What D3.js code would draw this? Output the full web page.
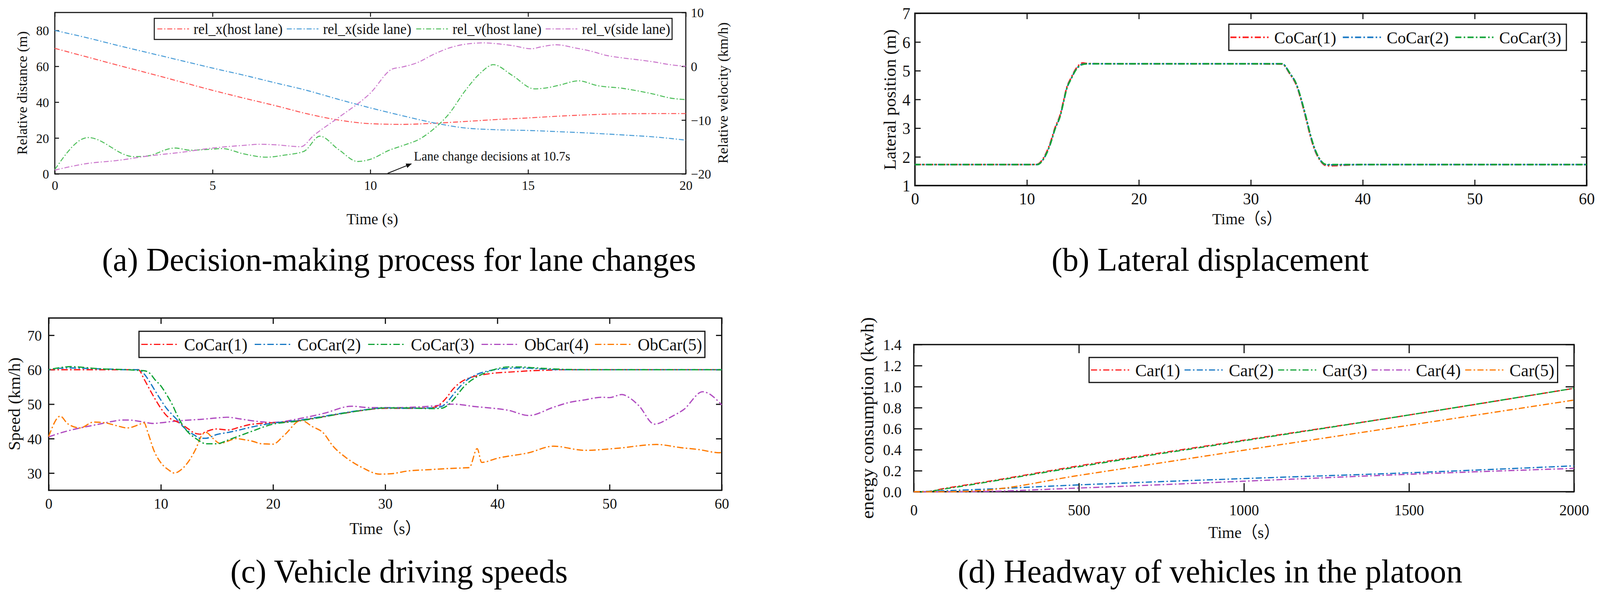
<!DOCTYPE html>
<html><head><meta charset="utf-8">
<script src="https://cdn.jsdelivr.net/npm/d3@7/dist/d3.min.js"></script>
<style>html,body{margin:0;padding:0;background:#fff;overflow:hidden;width:100%;height:100%}svg{display:block;background:#fff;width:100vw;height:100vh}</style>
</head><body>
<svg id="fig" viewBox="0 0 4190 1523" preserveAspectRatio="none"></svg>
<script>
// ---------------- DATA ----------------
// (a) Decision-making process for lane changes
const aNames = ["rel_x(host lane)", "rel_x(side lane)", "rel_v(host lane)", "rel_v(side lane)"];
const aTime = [0,1,2,3,4,5,6,7,8,9,10,11,12,13,14,15,16,17,18,19,20];
const aRelXHost = [70,65.3,60.6,56,51.3,46.6,42.2,38,33.5,30,28,27.6,28.2,29.2,30.3,31.2,32.2,33,33.5,33.6,33.6];
const aRelXSide = [80,76,71.6,67.4,63.2,59,55,50.7,46.5,41.5,36.8,32.5,28.5,25.6,24.6,24.2,23.5,22.7,21.7,20.6,18.8];
const aRelVHostTime = [0,1.06,2.5,2.9,3.8,4.3,5,5.3,6,6.7,7.3,7.9,8.4,9,9.6,10,10.6,11,11.6,12,12.5,13,13.5,13.9,14.5,15.2,15.6,16,16.6,17.2,18,18.5,19,19.5,20];
const aRelVHost = [-19.2,-13.25,-16.8,-16.7,-15.2,-15.6,-15.4,-15.3,-16.3,-16.9,-16.5,-15.8,-13.0,-15.5,-17.7,-17.3,-15.6,-14.8,-13.4,-11.7,-8.8,-4.6,-1.2,0.3,-1.7,-4.2,-4.0,-3.5,-2.7,-3.6,-4.1,-4.6,-5.2,-5.9,-6.2];
const aRelVSideTime = [0,1,2,3,4,5,6,6.5,7,7.8,8.2,9,10,10.7,11,11.5,12,12.5,13,13.6,14,14.5,15.1,15.4,15.9,16.5,17,17.5,18,18.5,19,19.5,20];
const aRelVSide = [-19.3,-18.1,-17.5,-16.65,-16,-15.2,-14.7,-14.5,-14.6,-14.95,-12.9,-9.5,-5.0,-0.5,-0.15,0.7,2.2,3.4,4.1,4.35,4.2,3.85,3.25,3.6,4.0,3.4,2.8,2.0,1.55,1.2,0.8,0.3,0.0];
const aXTicks = [0,5,10,15,20];
const aYTicks = [0,20,40,60,80];
const aYRTicks = [-20,-10,0,10];
const aNote = "Lane change decisions at 10.7s";

// (b) Lateral displacement
const bNames = ["CoCar(1)", "CoCar(2)", "CoCar(3)"];
const bTime = [0,5,10,10.9,11.5,12.1,12.5,13.0,13.3,13.55,13.96,14.4,15.0,15.4,20,25,30,32.8,33.5,34.1,34.5,34.9,35.3,35.7,36.1,36.5,36.8,40,50,60];
const bCoCar1 = [1.73,1.73,1.73,1.74,1.97,2.5,3.0,3.5,4.0,4.4,4.76,5.08,5.27,5.25,5.24,5.24,5.24,5.23,4.88,4.47,3.97,3.38,2.75,2.25,1.93,1.74,1.69,1.73,1.73,1.73];
const bCoCar2 = [1.73,1.73,1.73,1.73,1.94,2.46,2.96,3.46,3.96,4.37,4.73,5.05,5.23,5.24,5.24,5.24,5.24,5.24,4.9,4.5,4.0,3.42,2.79,2.28,1.95,1.76,1.72,1.73,1.73,1.73];
const bCoCar3 = [1.73,1.73,1.73,1.73,1.93,2.45,2.95,3.45,3.95,4.36,4.72,5.04,5.22,5.24,5.24,5.24,5.24,5.24,4.91,4.51,4.02,3.44,2.81,2.3,1.96,1.77,1.73,1.73,1.73,1.73];
const bXTicks = [0,10,20,30,40,50,60];
const bYTicks = [1,2,3,4,5,6,7];

// (c) Vehicle driving speeds
const cNames = ["CoCar(1)", "CoCar(2)", "CoCar(3)", "ObCar(4)", "ObCar(5)"];
const cTime = [0,1,2,3,4,5,6,7,8,8.5,9,9.5,10,10.5,11,11.5,12,12.5,13,13.5,14,15,16,17,18,20,22,24,26,28,30,32,34,35,35.5,36,36.5,37,37.5,38,39,40,41,42,43,44,46,48,50,55,60];
const cCoCar1 = [60,60,60,60,60,60,60,60,60,57.3,54.3,51.4,48.8,46.7,45.5,44.8,43.8,42.7,41.6,41.3,42,42.8,42.5,43.3,44.1,44.6,45.1,46.1,47.2,48.2,48.8,48.8,48.9,50.3,52,54.2,55.8,56.9,57.6,58.1,58.7,59.1,59.3,59.5,59.7,59.8,60,60,60,60,60];
const cCoCar2 = [60,60.4,60.5,60.4,60.3,60.2,60.1,60,60,58.8,56.5,53.8,51.2,48.8,47,45.3,43.4,42,41,40.1,40.1,41.2,41.8,42.5,43.3,44.5,45.2,46.2,47.3,48.3,48.9,48.8,48.9,49.3,50.5,52.5,54.5,56.2,57.5,58.4,59.5,60.1,60.4,60.5,60.4,60.2,60,60,60,60,60];
const cCoCar3 = [60,60.6,60.9,60.7,60.4,60.2,60.1,60,59.8,59.7,59,57,55.3,52.8,50,46.5,43.6,41.6,40.3,39.2,38.5,38.5,39.6,40.8,42,44.2,45,46,47.2,48.2,48.9,48.9,48.7,48.8,49.5,51,53,55,56.5,57.6,59.2,60.3,60.8,60.8,60.6,60.4,60.1,60,60,60,60];
const cObCar4Time = [0,1.1,2.8,4.2,5.7,6.5,7.1,8.3,9.3,10,11.1,12.1,13.6,15,15.9,17.1,18.1,20,22.5,24.5,27,28.6,31,34,36.1,38,39,41,42.8,45,46.4,47.8,49.3,50,51.1,51.7,52.6,54,55.6,56.6,58.3,60];
const cObCar4 = [40.5,41.7,43.1,44,45,45.4,45.4,44.9,44.4,44.6,45,45.3,45.6,46,46.2,45.7,45.2,44.7,45.9,47.3,49.4,49,49,49.4,50,49.3,49,48.2,46.7,49.1,50.5,51.25,52,51.9,52.8,52,49.6,44.2,46.5,48.4,53.6,49.8];
const cObCar5Time = [0,1.03,1.7,2.8,4,5,6,7,8,8.5,8.85,9.4,10,10.7,11.2,11.85,12.6,13.1,13.7,14.05,14.6,15.3,16,16.7,17.4,18.1,19,20,21,22.5,23.5,24.5,25.3,26.5,28,29.5,30.5,32,34,35.5,37,37.5,38.2,38.6,40,42.8,45,47.8,50.7,54.2,56.3,58,59.8,60];
const cObCar5 = [40.6,46.5,44.3,43.1,44.8,44.6,43.8,43.1,44,44.6,41.7,36.4,33,30.9,30,31.1,34,36.9,41.2,41.8,40.2,38.6,39.3,40,39.7,39.3,38.5,38.4,41,45.3,43.5,41.6,38,34.5,31.5,29.7,29.8,30.6,31,31.3,31.5,31.6,37.1,33.1,34.3,35.9,37.8,36.6,37.2,38.3,37.4,36.8,35.9,36];
const cXTicks = [0,10,20,30,40,50,60];
const cYTicks = [30,40,50,60,70];

// (d) Headway of vehicles in the platoon (energy consumption)
const dNames = ["Car(1)", "Car(2)", "Car(3)", "Car(4)", "Car(5)"];
const dTime = [0,30,100,200,500,1000,1500,2000];
const dCar1 = [0,0,0.035,0.085,0.246,0.49,0.73,0.984];
const dCar2 = [0,0.002,0.01,0.022,0.065,0.125,0.18,0.246];
const dCar3 = [0,0,0.03,0.08,0.238,0.485,0.73,0.984];
const dCar4 = [0,0,0,0.002,0.035,0.1,0.166,0.222];
const dCar5 = [0,0,0,0.01,0.155,0.395,0.632,0.872];
const dXTicks = [0,500,1000,1500,2000];
const dYTicks = [0,0.2,0.4,0.6,0.8,1.0,1.2,1.4];

const captions = ["(a) Decision-making process for lane changes", "(b) Lateral displacement", "(c) Vehicle driving speeds", "(d) Headway of vehicles in the platoon"];

// ---------------- DRAWING ----------------
const FONT = "'Liberation Serif','Times New Roman',serif";
const FONTCJK = "'Liberation Serif','Noto Sans CJK SC',serif";
const svg = d3.select("#fig");
svg.append("rect").attr("width",4190).attr("height",1523).attr("fill","#fff");

const defs = svg.append("defs");
defs.append("marker").attr("id","arrow").attr("viewBox","0 0 10 10").attr("refX",9).attr("refY",5)
  .attr("markerWidth",7).attr("markerHeight",7).attr("markerUnits","strokeWidth").attr("orient","auto")
  .append("path").attr("d","M0,1 L10,5 L0,9 Z").attr("fill","#111");

function panel(o) {
  const g = svg.append("g");
  const x = d3.scaleLinear().domain(o.xDomain).range([o.left, o.right]);
  const y = d3.scaleLinear().domain(o.yDomain).range([o.bottom, o.top]);
  const fmtX = o.xFmt || d3.format("d");
  const fmtY = o.yFmt || d3.format("d");
  const style = sel => sel.attr("font-family", FONT).attr("font-size", o.tickFont).attr("fill","#111");
  const ax = g.append("g").attr("transform",`translate(0,${o.bottom})`)
    .call(d3.axisBottom(x).tickValues(o.xTicks).tickSize(-o.tick).tickSizeOuter(0).tickFormat(fmtX));
  ax.select(".domain").remove();
  ax.selectAll("text").attr("y", o.xLabOff).attr("dy","0.35em").call(style);
  const at = g.append("g").attr("transform",`translate(0,${o.top})`)
    .call(d3.axisTop(x).tickValues(o.xTicks).tickSize(-o.tick).tickSizeOuter(0).tickFormat(""));
  at.select(".domain").remove();
  const al = g.append("g").attr("transform",`translate(${o.left},0)`)
    .call(d3.axisLeft(y).tickValues(o.yTicks).tickSize(-o.tick).tickSizeOuter(0).tickFormat(fmtY));
  al.select(".domain").remove();
  al.selectAll("text").attr("x", -o.yLabOff).attr("dy","0.35em").call(style);
  let yR = null;
  if (o.yRDomain) {
    yR = d3.scaleLinear().domain(o.yRDomain).range([o.bottom, o.top]);
    const ar = g.append("g").attr("transform",`translate(${o.right},0)`)
      .call(d3.axisRight(yR).tickValues(o.yRTicks).tickSize(-o.tick).tickSizeOuter(0).tickFormat(d3.format("d")));
    ar.select(".domain").remove();
    ar.selectAll("text").attr("x", o.yRLabOff).attr("dy","0.35em").call(style);
  } else {
    const ar = g.append("g").attr("transform",`translate(${o.right},0)`)
      .call(d3.axisRight(y).tickValues(o.yTicks).tickSize(-o.tick).tickSizeOuter(0).tickFormat(""));
    ar.select(".domain").remove();
  }
  g.selectAll(".tick line").attr("stroke","#111").attr("stroke-width", o.tickW);
  g.append("rect").attr("x",o.left).attr("y",o.top).attr("width",o.right-o.left).attr("height",o.bottom-o.top)
    .attr("fill","none").attr("stroke","#111").attr("stroke-width",o.frameW);
  const plot = svg.append("g");
  return {x, y, yR, plot, g};
}

function series(p, xs, ys, yScale, color, w, dash, offset) {
  const line = d3.line().x((d,i)=>p.x(xs[i])).y((d,i)=>yScale(ys[i])).curve(d3.curveMonotoneX);
  p.plot.append("path").attr("d", line(ys)).attr("fill","none").attr("stroke",color)
    .attr("stroke-width",w).attr("stroke-dasharray",dash).attr("stroke-dashoffset",offset||0)
    .attr("stroke-linejoin","round");
}

function legend(o, names, colors) {
  const g = svg.append("g");
  g.append("rect").attr("x",o.x).attr("y",o.y).attr("width",o.w).attr("height",o.h)
    .attr("fill","#fff").attr("stroke","#111").attr("stroke-width",o.stroke);
  const cy = o.y + o.h/2;
  names.forEach((n,i)=>{
    const x0 = o.x0 + i*o.step;
    g.append("line").attr("x1",x0).attr("x2",x0+o.len).attr("y1",cy).attr("y2",cy)
      .attr("stroke",colors[i]).attr("stroke-width",o.lw).attr("stroke-dasharray",o.dash);
    g.append("text").attr("x",x0+o.textOff).attr("y",cy).attr("dy","0.35em")
      .attr("font-family",FONT).attr("font-size",o.font).attr("fill","#111").text(n);
  });
}

function label(text, x, y, size, rotate, fam) {
  const t = svg.append("text").attr("font-family", fam || FONT).attr("font-size", size)
    .attr("fill","#111").attr("text-anchor","middle").attr("dy","0.35em").text(text);
  if (rotate) t.attr("transform",`translate(${x},${y}) rotate(-90)`);
  else t.attr("x",x).attr("y",y);
  return t;
}

// ----- Panel (a)
const colA = ["#ff5a5a","#4c9ed8","#4fbf5b","#cc7acd"];
const pa = panel({left:143.5,right:1796,top:32,bottom:445,xDomain:[0,20],yDomain:[0,90],
  xTicks:aXTicks,yTicks:aYTicks,yRDomain:[-20,10],yRTicks:aYRTicks,tick:11,tickW:2.5,frameW:2.8,
  tickFont:34,xLabOff:29,yLabOff:15,yRLabOff:13});
const dashA = "13,5,3,5";
series(pa, aTime, aRelXHost, pa.y, colA[0], 2.6, dashA);
series(pa, aTime, aRelXSide, pa.y, colA[1], 2.6, dashA);
series(pa, aRelVHostTime, aRelVHost, pa.yR, colA[2], 2.6, dashA);
series(pa, aRelVSideTime, aRelVSide, pa.yR, colA[3], 2.6, dashA);
pa.plot.append("line").attr("x1",pa.x(10.55)).attr("y1",pa.y(0.3)).attr("x2",pa.x(11.3)).attr("y2",pa.y(5.6))
  .attr("stroke","#111").attr("stroke-width",2.2).attr("marker-end","url(#arrow)");
pa.plot.append("text").attr("x",pa.x(11.38)).attr("y",pa.y(7.4)).attr("font-family",FONT)
  .attr("font-size",33).attr("fill","#111").text(aNote);
legend({x:404,y:47,w:1356,h:54,stroke:2.6,x0:412,step:339,len:83,textOff:95,lw:2.6,dash:dashA,font:37}, aNames, colA);
label("Relative distance (m)", 58, 238, 37, true);
label("Relative velocity (km/h)", 1893, 238, 37, true);
label("Time (s)", 975, 560, 40);

// ----- Panel (b)
const colB = ["#ff1a1a","#1677c4","#12a337"];
const pb = panel({left:2396,right:4155,top:34,bottom:475,xDomain:[0,60],yDomain:[1,7],
  xTicks:bXTicks,yTicks:bYTicks,tick:15,tickW:2.8,frameW:3.8,tickFont:42,xLabOff:33,yLabOff:12});
const dashB = "16,6,4,6";
series(pb, bTime, bCoCar1, pb.y, colB[0], 4, dashB, 0);
series(pb, bTime, bCoCar2, pb.y, colB[1], 4, dashB, 4);
series(pb, bTime, bCoCar3, pb.y, colB[2], 4, dashB, 2);
legend({x:3218,y:62,w:884,h:67,stroke:3,x0:3222,step:294.5,len:100,textOff:115,lw:4,dash:dashB,font:43}, bNames, colB);
label("Lateral position (m)", 2330, 255, 45, true);
label("Time（s）", 3266, 560, 41, false, FONTCJK);

// ----- Panel (c)
const colC = ["#ff1a1a","#1677c4","#12a337","#b04cc0","#ff7b00"];
const pc = panel({left:127.5,right:1890,top:814,bottom:1255,xDomain:[0,60],yDomain:[25,75],
  xTicks:cXTicks,yTicks:cYTicks,tick:15,tickW:3,frameW:3.4,tickFont:38,xLabOff:34,yLabOff:18});
const dashC = "17,6,4,6";
series(pc, cObCar4Time, cObCar4, pc.y, colC[3], 3.2, dashC);
series(pc, cObCar5Time, cObCar5, pc.y, colC[4], 3.2, dashC);
series(pc, cTime, cCoCar1, pc.y, colC[0], 3.2, dashC, 0);
series(pc, cTime, cCoCar2, pc.y, colC[1], 3.2, dashC, 11);
series(pc, cTime, cCoCar3, pc.y, colC[2], 3.2, dashC, 22);
legend({x:364,y:848,w:1482,h:67,stroke:3,x0:370,step:297,len:97,textOff:112,lw:3.2,dash:dashC,font:44}, cNames, colC);
label("Speed (km/h)", 37, 1034, 44, true);
label("Time（s）", 1009, 1352, 42, false, FONTCJK);

// ----- Panel (d)
const pd = panel({left:2393,right:4122,top:882,bottom:1258.6,xDomain:[0,2000],yDomain:[0,1.4],
  xTicks:dXTicks,yTicks:dYTicks,tick:22,tickW:3,frameW:3.4,tickFont:39,xLabOff:47,yLabOff:32,
  yFmt:d3.format(".1f")});
const dashD = "16,6,4,6";
series(pd, dTime, dCar1, pd.y, colC[0], 3.2, dashD, 0);
series(pd, dTime, dCar2, pd.y, colC[1], 3.2, dashD, 0);
series(pd, dTime, dCar3, pd.y, colC[2], 3.2, dashD, 14);
series(pd, dTime, dCar4, pd.y, colC[3], 3.2, dashD, 10);
series(pd, dTime, dCar5, pd.y, colC[4], 3.2, dashD, 0);
legend({x:2852,y:915,w:1227,h:64,stroke:3,x0:2857,step:245,len:100,textOff:116,lw:3.2,dash:dashD,font:45}, dNames, colC);
label("energy consumption (kwh)", 2270, 1070, 48, true);
label("Time（s）", 3258, 1362, 42, false, FONTCJK);

// ----- Captions
[[captions[0],1045,693],[captions[1],3169,693],[captions[2],1045,1491],[captions[3],3169,1491]].forEach(c=>{
  svg.append("text").attr("x",c[1]).attr("y",c[2]).attr("text-anchor","middle")
    .attr("font-family",FONT).attr("font-size",85).attr("fill","#000").text(c[0]);
});
</script>
</body></html>
